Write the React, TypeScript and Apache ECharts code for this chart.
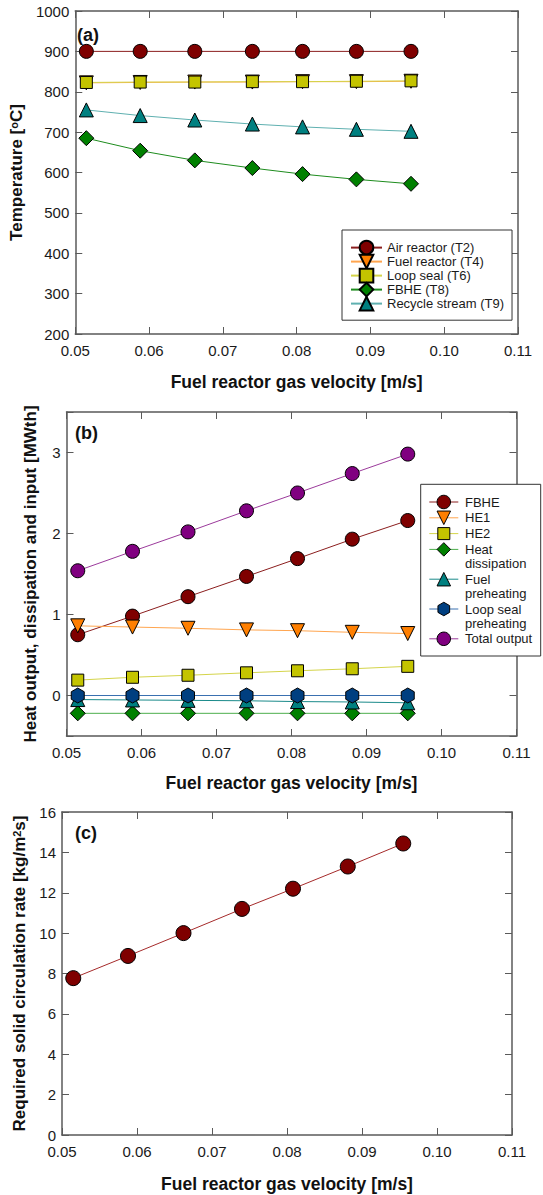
import React, { useEffect, useRef } from 'react';
import * as echarts from 'echarts';

// ---------- data ----------
const velocity = [0.0515, 0.0588, 0.0662, 0.074, 0.0808, 0.0881, 0.0955];
const xTicks = { min: 0.05, max: 0.11, step: 0.01 };

// (a) temperatures [°C]
const airReactorT2 = [900, 900, 900, 900, 900, 900, 900];
const fuelReactorT4 = [822, 823, 824, 824, 825, 825, 826];
const loopSealT6 = [823, 824, 824, 825, 825, 826, 827];
const fbheT8 = [685, 654, 630, 611, 596, 583, 572];
const recycleStreamT9 = [755, 741, 730, 720, 713, 707, 702];

// (b) heat output, dissipation and input [MWth]
const fbheHeat = [0.75, 0.98, 1.22, 1.47, 1.69, 1.93, 2.16];
const he1Heat = [0.86, 0.845, 0.83, 0.81, 0.8, 0.78, 0.765];
const he2Heat = [0.19, 0.225, 0.25, 0.28, 0.305, 0.33, 0.36];
const heatDissipation = [-0.22, -0.22, -0.22, -0.22, -0.22, -0.22, -0.22];
const fuelPreheating = [-0.05, -0.055, -0.06, -0.065, -0.075, -0.08, -0.09];
const loopSealPreheating = [0, 0, 0, 0, 0, 0, 0];
const totalOutput = [1.54, 1.78, 2.02, 2.28, 2.5, 2.74, 2.98];

// (c) required solid circulation rate [kg/m2s]
const circulationRate = [7.77, 8.87, 10.0, 11.2, 12.2, 13.3, 14.44];

// ---------- styles ----------
const FONT = "'Liberation Sans', Arial, Helvetica, sans-serif";
const AXIS = '#5a5a5a';
const TXT = '#1a1a1a';
const HEX = 'path://M0,-1 L0.866,-0.5 L0.866,0.5 L0,1 L-0.866,0.5 L-0.866,-0.5 Z';

const seriesA = [
  { name: 'Air reactor (T2)', data: airReactorT2, symbol: 'circle', rotate: 0, size: 14, fill: '#7f0000', line: '#8b1e1e' },
  { name: 'Fuel reactor (T4)', data: fuelReactorT4, symbol: 'triangle', rotate: 180, size: 14, fill: '#ff7f00', line: '#ffa54f' },
  { name: 'Loop seal (T6)', data: loopSealT6, symbol: 'rect', rotate: 0, size: 12, fill: '#c4c400', line: '#d4d44a' },
  { name: 'FBHE (T8)', data: fbheT8, symbol: 'diamond', rotate: 0, size: 15, fill: '#008000', line: '#1e8c1e' },
  { name: 'Recycle stream (T9)', data: recycleStreamT9, symbol: 'triangle', rotate: 0, size: 14, fill: '#008080', line: '#5fb0b0' },
];

const seriesB = [
  { name: 'FBHE', label: ['FBHE'], data: fbheHeat, symbol: 'circle', rotate: 0, size: 14, fill: '#7f0000', line: '#8b1e1e', kind: 'circle' },
  { name: 'HE1', label: ['HE1'], data: he1Heat, symbol: 'triangle', rotate: 180, size: 14, fill: '#ff7f00', line: '#ffa54f', kind: 'tdown' },
  { name: 'HE2', label: ['HE2'], data: he2Heat, symbol: 'rect', rotate: 0, size: 12, fill: '#c4c400', line: '#d4d44a', kind: 'rect' },
  { name: 'Heat dissipation', label: ['Heat', 'dissipation'], data: heatDissipation, symbol: 'diamond', rotate: 0, size: 15, fill: '#008000', line: '#4caf4c', kind: 'diamond' },
  { name: 'Fuel preheating', label: ['Fuel', 'preheating'], data: fuelPreheating, symbol: 'triangle', rotate: 0, size: 14, fill: '#008080', line: '#1a8a8a', kind: 'tup' },
  { name: 'Loop seal preheating', label: ['Loop seal', 'preheating'], data: loopSealPreheating, symbol: HEX, rotate: 0, size: 15, fill: '#003f80', line: '#3a70b0', kind: 'hex' },
  { name: 'Total output', label: ['Total output'], data: totalOutput, symbol: 'circle', rotate: 0, size: 14, fill: '#800080', line: '#9b3a9b', kind: 'circle' },
];

const grids = [
  { left: 67, top: 11, width: 451, height: 323 },
  { left: 66.5, top: 412, width: 450, height: 324 },
  { left: 62, top: 812, width: 450, height: 323 },
];

function xAxes(gridIndex: number, nameGap: number) {
  const common: any = {
    type: 'value', gridIndex, min: xTicks.min, max: xTicks.max, interval: xTicks.step,
    splitLine: { show: false },
    axisLine: { show: true, onZero: false, lineStyle: { color: AXIS, width: 1.5 } },
    axisTick: { show: true, inside: true, length: 7, lineStyle: { color: AXIS, width: 1 } },
  };
  return [
    {
      ...common, position: 'bottom',
      name: 'Fuel reactor gas velocity [m/s]', nameLocation: 'middle', nameGap,
      nameTextStyle: { fontSize: 17.5, fontWeight: 'bold', fontFamily: FONT, color: '#111' },
      axisLabel: { show: true, margin: 9, fontSize: 15, fontFamily: FONT, color: TXT, formatter: (v: number) => v.toFixed(2) },
    },
    { ...common, position: 'top', axisLabel: { show: false } },
  ];
}

function yAxes(gridIndex: number, range: any, name: string, nameGap: number, rich?: any) {
  const common: any = {
    type: 'value', gridIndex, ...range,
    splitLine: { show: false },
    axisLine: { show: true, onZero: false, lineStyle: { color: AXIS, width: 1.5 } },
    axisTick: { show: true, inside: true, length: 7, lineStyle: { color: AXIS, width: 1 } },
  };
  return [
    {
      ...common, position: 'left',
      name, nameLocation: 'middle', nameGap,
      nameTextStyle: { fontSize: 17, fontWeight: 'bold', fontFamily: FONT, color: '#111', rich },
      axisLabel: {
        show: true, margin: 6, fontSize: 15, fontFamily: FONT, color: TXT,
        formatter: (v: number) => (Math.abs(v - Math.round(v)) < 1e-9 ? String(Math.round(v)) : ''),
      },
    },
    { ...common, position: 'right', axisLabel: { show: false } },
  ];
}

const boldRich = {
  b: { fontSize: 17, fontWeight: 'bold', fontFamily: FONT, color: '#111' },
  s: { fontSize: 11, fontWeight: 'bold', fontFamily: FONT, color: '#111', verticalAlign: 'top' },
};

function lineSeries(s: any, axisIndex: number) {
  return {
    type: 'line', name: s.name,
    xAxisIndex: axisIndex, yAxisIndex: axisIndex,
    data: velocity.map((x, i) => [x, s.data[i]]),
    symbol: s.symbol, symbolSize: s.size, symbolRotate: s.rotate, symbolKeepAspect: true,
    lineStyle: { color: s.line, width: 1 },
    itemStyle: { color: s.fill, borderColor: '#000', borderWidth: 1 },
    emphasis: { disabled: true },
    silent: true,
  };
}

function legendSymbol(kind: string, cx: number, cy: number, s: number, fill: string) {
  const h = s / 2;
  const style = { fill, stroke: '#000', lineWidth: 1 };
  if (kind === 'circle') return { type: 'circle', shape: { cx, cy, r: h }, style, z: 102 };
  if (kind === 'rect') return { type: 'rect', shape: { x: cx - h, y: cy - h, width: s, height: s }, style, z: 102 };
  let pts: number[][] = [];
  if (kind === 'tdown') pts = [[cx - h, cy - h], [cx + h, cy - h], [cx, cy + h]];
  if (kind === 'tup') pts = [[cx, cy - h], [cx + h, cy + h], [cx - h, cy + h]];
  if (kind === 'diamond') pts = [[cx, cy - h], [cx + h, cy], [cx, cy + h], [cx - h, cy]];
  if (kind === 'hex') {
    const w = h * 0.866;
    pts = [[cx, cy - h], [cx + w, cy - h / 2], [cx + w, cy + h / 2], [cx, cy + h], [cx - w, cy + h / 2], [cx - w, cy - h / 2]];
  }
  return { type: 'polygon', shape: { points: pts }, style, z: 102 };
}

function buildLegendB() {
  const box = { x: 420.7, y: 484.3, w: 120, h: 171.7 };
  const els: any[] = [
    { type: 'rect', shape: { x: box.x, y: box.y, width: box.w, height: box.h }, style: { fill: '#fff', stroke: '#333', lineWidth: 1 }, z: 100 },
  ];
  let cy = 502;
  seriesB.forEach((s) => {
    els.push({ type: 'line', shape: { x1: 429.3, y1: cy, x2: 458.3, y2: cy }, style: { stroke: s.line, lineWidth: 1 }, z: 101 });
    const symSize = s.kind === 'rect' ? 12 : 13.5;
    els.push(legendSymbol(s.kind, 443.8, cy, symSize, s.fill));
    s.label.forEach((t, k) => {
      els.push({
        type: 'text', x: 465, y: cy + 14 * k, z: 102,
        style: { text: t, font: `13px ${FONT}`, fill: TXT, textAlign: 'left', textVerticalAlign: 'middle', align: 'left', verticalAlign: 'middle' },
      });
    });
    cy += 15.8 + 14 * (s.label.length - 1);
  });
  return els;
}

function panelLabel(text: string, x: number, y: number) {
  return {
    type: 'text', x, y, z: 50,
    style: { text, font: `bold 18px ${FONT}`, fill: '#111', textAlign: 'left', textVerticalAlign: 'middle', align: 'left', verticalAlign: 'middle' },
  };
}

export default function App() {
  const ref = useRef<HTMLDivElement>(null);
  useEffect(() => {
    const chart = echarts.init(ref.current!, null, { renderer: 'svg' });
    const option: any = {
      animation: false,
      backgroundColor: '#fff',
      textStyle: { fontFamily: FONT },
      grid: grids.map((g) => ({ ...g, containLabel: false })),
      xAxis: [...xAxes(0, 38.5), ...xAxes(1, 37.5), ...xAxes(2, 39.5)],
      yAxis: [
        ...yAxes(0, { min: 200, max: 1000, interval: 100 }, '{b|Temperature [}{s|o}{b|C]}', 36.5, boldRich),
        ...yAxes(1, { min: -0.5, max: 3.5, splitNumber: 4 }, 'Heat output, dissipation and input [MWth]', 28),
        ...yAxes(2, { min: 0, max: 16, interval: 2 }, '{b|Required solid circulation rate [kg/m}{s|2}{b|s]}', 24.5, boldRich),
      ],
      legend: [
        {
          data: seriesA.map((s) => s.name),
          left: 342, top: 230, orient: 'vertical',
          padding: [9.8, 8, 8.8, 8],
          itemWidth: 31, itemHeight: 17, itemGap: -1.6,
          backgroundColor: '#fff', borderColor: '#333', borderWidth: 1, borderRadius: 0,
          textStyle: { fontSize: 13, fontFamily: FONT, color: TXT },
          selectedMode: false,
        },
      ],
      series: [
        ...seriesA.map((s) => lineSeries(s, 0)),
        ...seriesB.map((s) => lineSeries(s, 2)),
        lineSeries({ name: 'Required solid circulation rate', data: circulationRate, symbol: 'circle', rotate: 0, size: 15, fill: '#7f0000', line: '#a52a2a' }, 4),
      ],
      graphic: [
        panelLabel('(a)', 77, 35),
        panelLabel('(b)', 75, 433),
        panelLabel('(c)', 75, 833),
        ...buildLegendB(),
      ],
    };
    chart.setOption(option);
    return () => chart.dispose();
  }, []);
  return (
    <div
      ref={ref}
      style={{ position: 'absolute', left: 0, top: 0, width: 543, height: 1195, background: '#fff' }}
    />
  );
}
